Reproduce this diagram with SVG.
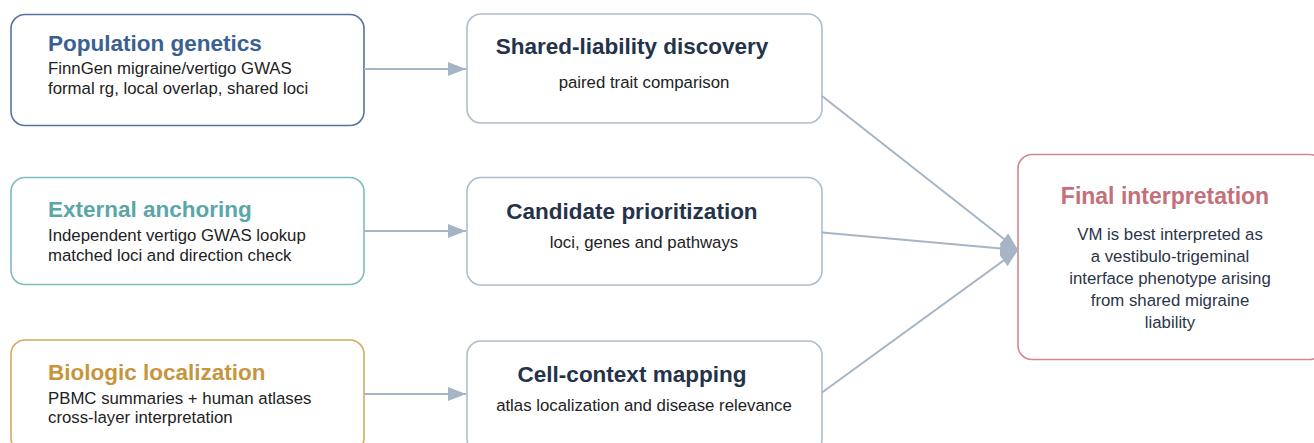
<svg xmlns="http://www.w3.org/2000/svg" width="1314" height="443" viewBox="0 0 1314 443">
  <style>
    .box { fill: #ffffff; stroke-width: 1.6; }
    .title { font-family: "Liberation Sans", Arial, sans-serif; font-weight: bold; font-size: 22.5px; }
    .body { font-family: "Liberation Sans", Arial, sans-serif; font-size: 16.8px; fill: #222222; }
    .mid { stroke: #aebdcc; }
    .mid-title { fill: #24324a; text-anchor: middle; }
    .mid-body { text-anchor: middle; }
    .edge { fill: none; stroke: #a6b5c5; stroke-width: 2; }
  </style>
  <defs>
    <marker id="arrow" markerUnits="userSpaceOnUse" markerWidth="18" markerHeight="14" viewBox="0 0 18 14" refX="18" refY="7" orient="auto">
      <path d="M0,0 L18,7 L0,14 z" fill="#a6b5c5"/>
    </marker>
  </defs>
  <rect width="1314" height="443" fill="#ffffff"/>

  <!-- evidence layers (left column) -->
  <g id="population-genetics">
    <rect class="box" x="11" y="14.5" width="353" height="111" rx="14" stroke="#56739f"/>
    <text class="title" x="48" y="51" fill="#3a6194">Population genetics</text>
    <text class="body" x="48" y="74">FinnGen migraine/vertigo GWAS</text>
    <text class="body" x="48" y="93.5">formal rg, local overlap, shared loci</text>
  </g>
  <g id="external-anchoring">
    <rect class="box" x="11" y="177.5" width="353" height="107" rx="14" stroke="#7fbcbd"/>
    <text class="title" x="48" y="216.5" fill="#5ba6a8">External anchoring</text>
    <text class="body" x="48" y="241">Independent vertigo GWAS lookup</text>
    <text class="body" x="48" y="260.5">matched loci and direction check</text>
  </g>
  <g id="biologic-localization">
    <rect class="box" x="11" y="340" width="353" height="112" rx="14" stroke="#d6aa5e"/>
    <text class="title" x="48" y="380" fill="#c6963f">Biologic localization</text>
    <text class="body" x="48" y="403.5">PBMC summaries + human atlases</text>
    <text class="body" x="48" y="423">cross-layer interpretation</text>
  </g>

  <!-- analysis steps (middle column) -->
  <g id="shared-liability-discovery">
    <rect class="box mid" x="467" y="14" width="355" height="109" rx="14"/>
    <text class="title mid-title" x="632" y="54">Shared-liability discovery</text>
    <text class="body mid-body" x="644" y="87.5">paired trait comparison</text>
  </g>
  <g id="candidate-prioritization">
    <rect class="box mid" x="467" y="177.5" width="355" height="107.5" rx="14"/>
    <text class="title mid-title" x="632" y="219">Candidate prioritization</text>
    <text class="body mid-body" x="644" y="248">loci, genes and pathways</text>
  </g>
  <g id="cell-context-mapping">
    <rect class="box mid" x="467" y="341" width="355" height="112" rx="14"/>
    <text class="title mid-title" x="632" y="382">Cell-context mapping</text>
    <text class="body mid-body" x="644" y="411">atlas localization and disease relevance</text>
  </g>

  <!-- synthesis (right) -->
  <g id="final-interpretation">
    <rect class="box" x="1018" y="154.5" width="306" height="205" rx="14" stroke="#d3878f"/>
    <text class="title" x="1165" y="204" fill="#c3707a" text-anchor="middle" style="font-size:23px">Final interpretation</text>
    <g class="body" fill="#2b3548" text-anchor="middle" style="fill:#2b3548">
      <text x="1170" y="240">VM is best interpreted as</text>
      <text x="1170" y="262">a vestibulo-trigeminal</text>
      <text x="1170" y="284">interface phenotype arising</text>
      <text x="1170" y="306">from shared migraine</text>
      <text x="1170" y="328">liability</text>
    </g>
  </g>

  <!-- connectors -->
  <g id="connectors">
    <line class="edge" x1="364" y1="69" x2="466" y2="69" marker-end="url(#arrow)"/>
    <line class="edge" x1="364" y1="231" x2="466" y2="231" marker-end="url(#arrow)"/>
    <line class="edge" x1="364" y1="394" x2="466" y2="394" marker-end="url(#arrow)"/>
    <line class="edge" x1="822" y1="96" x2="1018" y2="250" marker-end="url(#arrow)"/>
    <line class="edge" x1="822" y1="232.5" x2="1018" y2="250" marker-end="url(#arrow)"/>
    <line class="edge" x1="822" y1="392.5" x2="1018" y2="250" marker-end="url(#arrow)"/>
  </g>
</svg>
